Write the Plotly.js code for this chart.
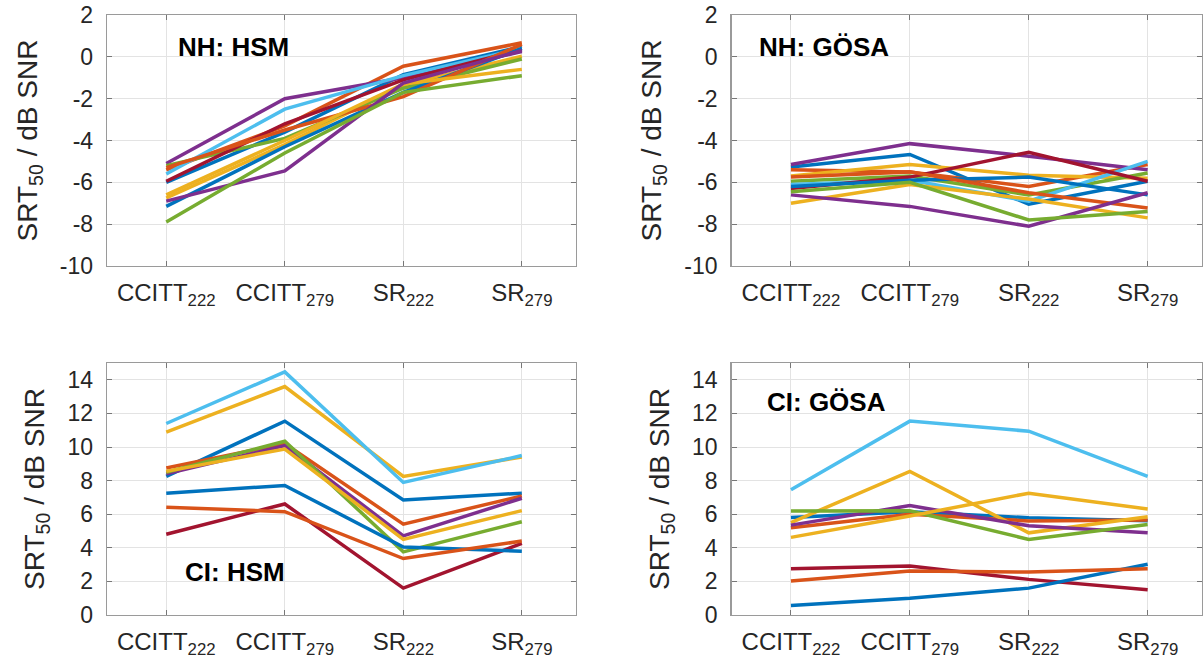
<!DOCTYPE html>
<html>
<head>
<meta charset="utf-8">
<script src="https://cdn.plot.ly/plotly-3.0.1.min.js"></script>
<style>html,body{margin:0;padding:0;background:#fff;}#chart{width:1203px;height:670px;}</style>
</head>
<body>
<div id="chart"></div>
<script>
// Categories (conditions)
const categories = ["CCITT<sub>222</sub>", "CCITT<sub>279</sub>", "SR<sub>222</sub>", "SR<sub>279</sub>"];

// Panel titles
const panelLabels = ["NH: HSM", "NH: GÖSA", "CI: HSM", "CI: GÖSA"];

// Y tick values / labels
const nhTickVals = [-10, -8, -6, -4, -2, 0, 2];
const nhTickText = ["-10", "-8", "-6", "-4", "-2", "0", "2"];
const ciTickVals = [0, 2, 4, 6, 8, 10, 12, 14];
const ciTickText = ["0", "2", "4", "6", "8", "10", "12", "14"];

// SRT50 per subject (rows) across the 4 conditions
const nhHSM = [
  [-6.0, -3.6, -0.85, 0.5],
  [-5.4, -3.3, -0.45, 0.67],
  [-6.75, -4.2, -1.35, 0.03],
  [-5.1, -2.0, -1.0, 0.25],
  [-5.2, -3.9, -1.5, -0.1],
  [-5.6, -2.5, -0.9, 0.4],
  [-5.95, -3.2, -1.1, 0.35],
  [-7.15, -4.3, -1.7, 0.4],
  [-5.3, -3.5, -1.9, 0.6],
  [-6.6, -4.0, -1.3, -0.6],
  [-6.9, -5.45, -1.25, 0.3],
  [-7.9, -4.6, -1.7, -0.9]
];
const nhGOSA = [
  [-5.27, -4.67, -7.05, -5.95],
  [-5.4, -5.5, -6.2, -5.15],
  [-5.7, -5.15, -5.66, -5.8],
  [-5.15, -4.15, -4.75, -5.4],
  [-5.95, -5.7, -6.6, -5.55],
  [-6.1, -5.9, -6.9, -5.0],
  [-6.3, -5.75, -4.56, -5.95],
  [-6.2, -5.9, -5.75, -6.6],
  [-5.75, -5.5, -6.5, -7.23],
  [-7.0, -6.1, -6.8, -7.7],
  [-6.6, -7.15, -8.1, -6.5],
  [-6.45, -6.0, -7.8, -7.4]
];
const ciHSM = [
  [8.25, 11.54, 6.85, 7.25],
  [8.75, 10.2, 5.41, 7.09],
  [10.88, 13.6, 8.25, 9.41],
  [8.4, 10.08, 4.71, 6.95],
  [8.5, 10.34, 3.76, 5.55],
  [11.4, 14.47, 7.89, 9.49],
  [4.81, 6.61, 1.6, 4.26],
  [7.25, 7.71, 4.05, 3.8],
  [6.41, 6.15, 3.36, 4.4],
  [8.55, 9.88, 4.5, 6.21]
];
const ciGOSA = [
  [5.81, 6.15, 5.79, 5.61],
  [5.19, 6.0, 5.6, 5.65],
  [5.5, 8.55, 4.89, 5.85],
  [5.35, 6.51, 5.31, 4.89],
  [6.19, 6.2, 4.5, 5.39],
  [7.45, 11.54, 10.94, 8.25],
  [2.76, 2.92, 2.12, 1.5],
  [0.56, 1.0, 1.6, 3.02],
  [2.02, 2.62, 2.56, 2.76],
  [4.62, 5.89, 7.25, 6.31]
];

const colors = ["#0072BD", "#D95319", "#EDB120", "#7E2F8E", "#77AC30", "#4DBEEE", "#A2142F"];

const panels = [nhHSM, nhGOSA, ciHSM, ciGOSA];
const traces = [];
panels.forEach((rows, p) => {
  const ax = p === 0 ? "" : String(p + 1);
  rows.forEach((vals, i) => {
    traces.push({
      type: "scatter", mode: "lines",
      x: categories, y: vals,
      xaxis: "x" + ax, yaxis: "y" + ax,
      line: {color: colors[i % colors.length], width: 3.5},
      showlegend: false, hoverinfo: "y"
    });
  });
});

const W = 1203, H = 670;
const font = {family: "Liberation Sans, Arial, sans-serif", color: "#262626"};
const boxes = [
  {x0: 107, x1: 576, y0: 15, y1: 266},
  {x0: 731.5, x1: 1202, y0: 15, y1: 266},
  {x0: 107, x1: 576, y0: 363, y1: 615},
  {x0: 731.5, x1: 1202, y0: 363, y1: 615}
];

const layout = {
  width: W, height: H,
  margin: {l: 0, r: 0, t: 0, b: 0},
  paper_bgcolor: "#fff", plot_bgcolor: "#fff",
  font: Object.assign({size: 22}, font),
  showlegend: false,
  annotations: []
};
const annPos = [
  {x: 176, y: 47}, {x: 757, y: 47}, {x: 183, y: 572}, {x: 765, y: 402}
];
boxes.forEach((b, p) => {
  const ax = p === 0 ? "" : String(p + 1);
  const isNH = p < 2;
  layout["xaxis" + ax] = {
    domain: [b.x0 / W, b.x1 / W],
    anchor: "y" + ax,
    type: "category",
    categoryorder: "array", categoryarray: categories,
    range: [-0.5, 3.457],
    showgrid: true, gridcolor: "#e3e3e3", gridwidth: 1,
    showline: true, linecolor: "#9a9a9a", linewidth: 1.3, mirror: "ticks",
    ticks: "inside", ticklen: 5, tickcolor: "#777",
    ticklabelstandoff: 5,
    tickfont: Object.assign({size: 24}, font),
    zeroline: false, fixedrange: true
  };
  layout["yaxis" + ax] = {
    domain: [1 - b.y1 / H, 1 - b.y0 / H],
    anchor: "x" + ax,
    range: isNH ? [-10, 2] : [0, 15],
    tickmode: "array",
    tickvals: isNH ? nhTickVals : ciTickVals,
    ticktext: isNH ? nhTickText : ciTickText,
    showgrid: true, gridcolor: "#e3e3e3", gridwidth: 1,
    showline: true, linecolor: "#9a9a9a", linewidth: 1.3, mirror: "ticks",
    ticks: "inside", ticklen: 5, tickcolor: "#777",
    ticklabelstandoff: 8,
    tickfont: Object.assign({size: 23}, font),
    title: {text: "SRT<sub>50</sub> / dB SNR", font: Object.assign({size: 28}, font), standoff: 14},
    zeroline: false, fixedrange: true
  };
  layout.annotations.push({
    xref: "paper", yref: "paper",
    x: annPos[p].x / W, y: 1 - annPos[p].y / H,
    xanchor: "left", yanchor: "middle",
    text: "<b>" + panelLabels[p] + "</b>",
    showarrow: false,
    font: Object.assign({size: 26}, font, {color: "#000"})
  });
});

Plotly.newPlot("chart", traces, layout, {displayModeBar: false, staticPlot: true});
</script>
</body>
</html>
